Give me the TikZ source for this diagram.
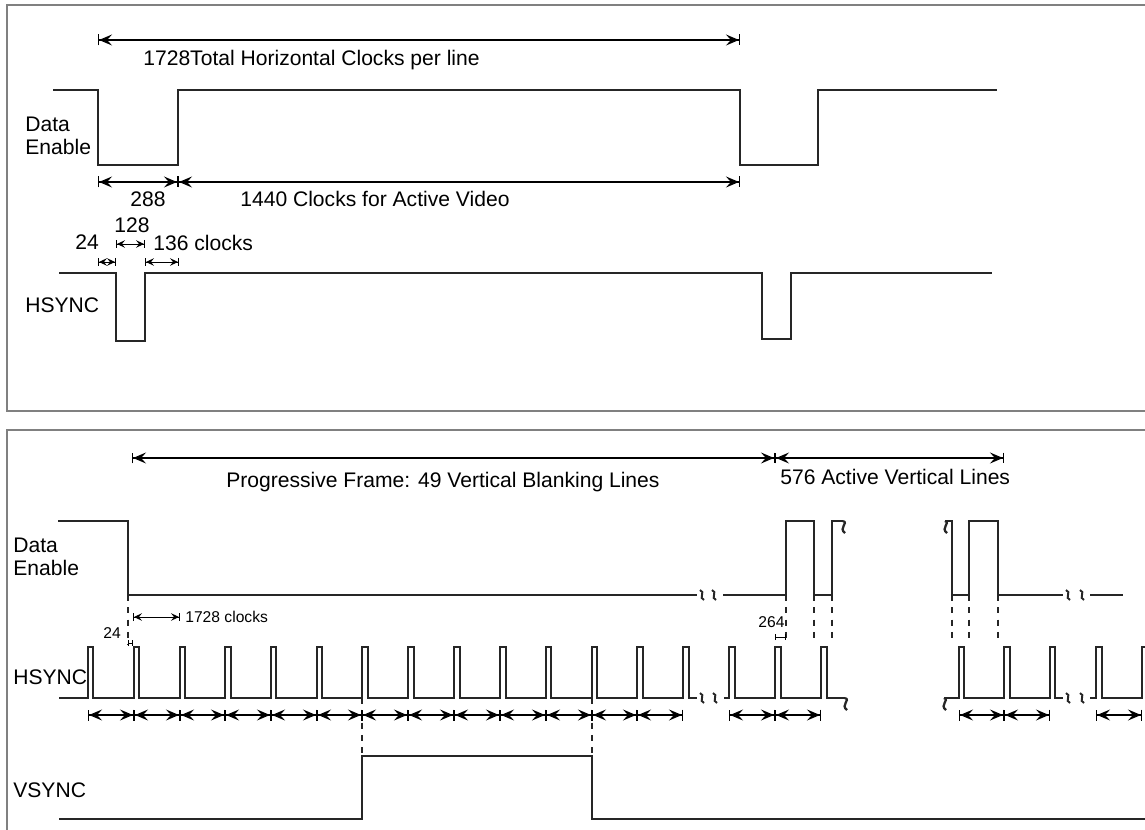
\documentclass[tikz,border=0pt]{standalone}
\usepackage{fontspec}
\setmainfont{Liberation Sans}
\usepackage{tikz}
\usetikzlibrary{arrows.meta}

\begin{document}
\begin{tikzpicture}[
  x=0.02cm, y=-0.02cm,
  frame/.style={draw=black!50, line width=1.1pt},
  sig/.style={draw=black!85, line width=0.75pt},
  dashv/.style={draw=black!85, line width=0.6pt, dash pattern=on 3.5pt off 3.5pt},
  dim/.style={{Bar[width=2.2mm]Stealth[length=2.6mm,width=2.2mm,inset=1mm]}-{Stealth[length=2.6mm,width=2.2mm,inset=1mm]Bar[width=2.2mm]}, line width=0.6pt},
  sdim/.style={{Bar[width=1.6mm]Stealth[length=1.6mm,width=1.5mm,inset=0.6mm]}-{Stealth[length=1.6mm,width=1.5mm,inset=0.6mm]Bar[width=1.6mm]}, line width=0.55pt},
  tickdim/.style={{Bar[width=1.2mm]}-{Bar[width=1.2mm]}, line width=0.5pt},
  lbl/.style={font=\fontsize{12}{13}\selectfont, inner sep=0pt, anchor=west, align=left},
  slbl/.style={font=\fontsize{8.9}{10}\selectfont, inner sep=0pt, anchor=west},
  brk/.pic={\draw[sig, line width=1.1pt] (-2,-5) .. controls (4,-3) and (-4,3) .. (2,5);},
  wave/.pic={\draw[sig, line width=1.3pt] (0,0) .. controls (6,2) and (-5,7) .. (2,12);}
]
\useasboundingbox (0,0) rectangle (1145,830);

% ==================== FRAMES ====================
\draw[frame] (1150,5) -- (7,5) -- (7,411) -- (1150,411);
\draw[frame] (1150,430) -- (7,430) -- (7,835);

% ==================== LINE TIMING ====================
% Labels
\node[lbl] (de_top) at (25,135.5) {Data\\Enable};
\node[lbl] (hs_top) at (25,305) {HSYNC};
\node[lbl] (total) at (143,60) {1728Total Horizontal Clocks per line};
\node[lbl] (blank) at (130,199) {288};
\node[lbl] (active) at (240,199) {1440 Clocks for Active Video};
\node[lbl] (front) at (75,242) {24};
\node[lbl] (sync) at (114,225) {128};
\node[lbl] (back) at (153,243) {136 clocks};

% Waveforms
\draw[sig] (53,90) -- (98,90) -- (98,165) -- (178,165) -- (178,90) -- (740,90) -- (740,165) -- (818,165) -- (818,90) -- (997,90);
\draw[sig] (59,273) -- (116,273) -- (116,341) -- (145,341) -- (145,273) -- (762,273) -- (762,339) -- (791,339) -- (791,273) -- (992,273);

% Dimensions
\draw[dim] (98,40) -- (740,40);
\draw[dim] (98,182) -- (178,182);
\draw[dim] (178,182) -- (740,182);
\draw[sdim] (98,262) -- (116,262);
\draw[sdim] (116,244) -- (145,244);
\draw[sdim] (145,262) -- (179,262);

% ==================== FRAME TIMING ====================
% Labels
\node[lbl] (de_bot) at (13,556.5) {Data\\Enable};
\node[lbl] (hs_bot) at (13,677) {HSYNC};
\node[lbl] (vs_bot) at (13,790) {VSYNC};
\node[lbl] (vblank) at (226,482) {Progressive Frame: 49 Vertical Blanking Lines};
\node[lbl] (vactive) at (780,477) {576 Active Vertical Lines};
\node[slbl] (period) at (185,617) {1728 clocks};
\node[slbl] (hfront) at (103,633) {24};
\node[slbl] (hstart) at (758,622) {264};

% Data Enable
\draw[sig] (58,521) -- (128,521) -- (128,595) -- (697,595);
\pic at (702,595) {brk};
\pic at (714,595) {brk};
\draw[sig] (723,595) -- (786,595) -- (786,521) -- (814,521) -- (814,595) -- (832,595) -- (832,521) -- (843,521);
\pic at (843,521) {wave};
\pic at (945,521) {wave};
\draw[sig] (945,521) -- (952,521) -- (952,595) -- (969,595) -- (969,521) -- (998,521) -- (998,595) -- (1063,595);
\pic at (1068,595) {brk};
\pic at (1082,595) {brk};
\draw[sig] (1090,595) -- (1123,595);

% HSYNC
\draw[sig] (59,698) -| (88,647) -| (93,698) -| (134,647) -| (139,698) -| (180,647) -| (185,698)
  -| (225,647) -| (231,698) -| (271,647) -| (276,698) -| (317,647) -| (322,698) -| (362,647) -| (368,698)
  -| (408,647) -| (414,698) -| (454,647) -| (460,698) -| (500,647) -| (506,698) -| (546,647) -| (551,698)
  -| (592,647) -| (597,698) -| (637,647) -| (643,698) -| (683,647) -| (689,698) -- (697,698);
\pic at (702,698) {brk};
\pic at (715,698) {brk};
\draw[sig] (724,698) -| (729,647) -| (735,698) -| (775,647) -| (781,698) -| (821,647) -| (827,698) -- (845,698);
\pic at (845,698) {wave};
\pic at (944,698) {wave};
\draw[sig] (944,698) -| (959,647) -| (964,698) -| (1004,647) -| (1010,698) -| (1050,647) -| (1055,698) -- (1063,698);
\pic at (1068,698) {brk};
\pic at (1082,698) {brk};
\draw[sig] (1090,698) -| (1096,647) -| (1102,698) -| (1142,647) -- (1150,647);

% VSYNC
\draw[sig] (59,819) -- (362,819) -- (362,756) -- (592,756) -- (592,819) -- (1150,819);

% Guide lines
\draw[dashv] (128,595) -- (128,645);
\draw[dashv] (786,595) -- (786,643);
\draw[dashv] (814,595) -- (814,643);
\draw[dashv] (832,595) -- (832,643);
\draw[dashv] (952,595) -- (952,643);
\draw[dashv] (969,595) -- (969,643);
\draw[dashv] (998,595) -- (998,643);
\draw[dashv] (362,698) -- (362,756);
\draw[dashv] (592,698) -- (592,756);

% Dimensions
\draw[dim] (132,458) -- (775,458);
\draw[dim] (775,458) -- (1004,458);
\draw[sdim] (133,617) -- (180,617);
\draw[tickdim] (128,643) -- (133,643);
\draw[tickdim] (775,637) -- (786,637);

% Line periods
\draw[dim] (88,715) -- (134,715);
\draw[dim] (134,715) -- (180,715);
\draw[dim] (180,715) -- (225,715);
\draw[dim] (225,715) -- (271,715);
\draw[dim] (271,715) -- (317,715);
\draw[dim] (317,715) -- (362,715);
\draw[dim] (362,715) -- (408,715);
\draw[dim] (408,715) -- (454,715);
\draw[dim] (454,715) -- (500,715);
\draw[dim] (500,715) -- (546,715);
\draw[dim] (546,715) -- (592,715);
\draw[dim] (592,715) -- (637,715);
\draw[dim] (637,715) -- (683,715);
\draw[dim] (729,715) -- (775,715);
\draw[dim] (775,715) -- (821,715);
\draw[dim] (959,715) -- (1004,715);
\draw[dim] (1004,715) -- (1050,715);
\draw[dim] (1096,715) -- (1142,715);
\end{tikzpicture}
\end{document}
